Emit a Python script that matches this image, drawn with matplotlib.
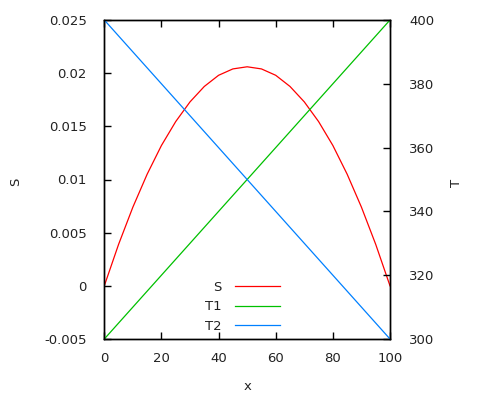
import numpy as np
import matplotlib
matplotlib.use('Agg')
import matplotlib.pyplot as plt

plt.rcParams['font.family'] = ['DejaVu Sans']

# values
x = [0, 5, 10, 15, 20, 25, 30, 35, 40, 45, 50, 55, 60, 65, 70, 75, 80, 85, 90, 95, 100]
S = [0.0, 0.0039, 0.0074, 0.0105, 0.0132, 0.01545, 0.0173, 0.01875, 0.0198, 0.0204, 0.0206,
     0.0204, 0.0198, 0.01875, 0.0173, 0.01545, 0.0132, 0.0105, 0.0074, 0.0039, 0.0]
T1 = [300, 305, 310, 315, 320, 325, 330, 335, 340, 345, 350,
      355, 360, 365, 370, 375, 380, 385, 390, 395, 400]
T2 = [400, 395, 390, 385, 380, 375, 370, 365, 360, 355, 350,
      345, 340, 335, 330, 325, 320, 315, 310, 305, 300]

s_ticks = [-0.005, 0, 0.005, 0.01, 0.015, 0.02, 0.025]
s_labels = ['-0.005', '0', '0.005', '0.01', '0.015', '0.02', '0.025']
t_ticks = [300, 320, 340, 360, 380, 400]
x_ticks = [0, 20, 40, 60, 80, 100]

fs = 9.5
tc = '#222222'

fig = plt.figure(figsize=(5, 4), dpi=100)
ax = fig.add_axes([0.2086, 0.1525, 0.5714, 0.7975])
ax2 = ax.twinx()

lS, = ax.plot(x, S, color='#ff0000', lw=0.9)
l1, = ax2.plot(x, T1, color='#00c000', lw=0.9)
l2, = ax2.plot(x, T2, color='#0080ff', lw=0.9)

ax.set_xlim(0, 100)
ax.set_ylim(-0.005, 0.025)
ax2.set_ylim(300, 400)

ax.set_xticks(x_ticks)
ax.set_yticks(s_ticks)
ax.set_yticklabels(s_labels)
ax2.set_yticks(t_ticks)

ax.tick_params(axis='x', direction='in', length=5, width=1, top=True, pad=9.5,
               labelsize=fs, labelcolor=tc)
ax.tick_params(axis='y', direction='in', length=5, width=1, right=False, pad=12.5,
               labelsize=fs, labelcolor=tc)
ax2.tick_params(axis='y', direction='in', length=5, width=1, pad=14,
                labelsize=fs, labelcolor=tc)

for a in (ax, ax2):
    for sp in a.spines.values():
        sp.set_linewidth(1)

ax.set_xlabel('x', fontsize=fs, color=tc, labelpad=11)
fig.text(16 / 500, 1 - 182 / 400, 'S', rotation=90, ha='center', va='center',
         fontsize=fs, color=tc)
fig.text(456 / 500, 1 - 183 / 400, 'T', rotation=90, ha='center', va='center',
         fontsize=fs, color=tc)

leg = ax.legend([lS, l1, l2], ['S', 'T1', 'T2'], loc='lower right',
                bbox_to_anchor=(0.615, 0.02), frameon=False, fontsize=fs,
                markerfirst=False, handlelength=3.4, handletextpad=1.0,
                labelspacing=0.48, borderaxespad=0, borderpad=0)
for t in leg.get_texts():
    t.set_ha('right')
    t.set_color(tc)

fig.savefig('out.png', dpi=100)
